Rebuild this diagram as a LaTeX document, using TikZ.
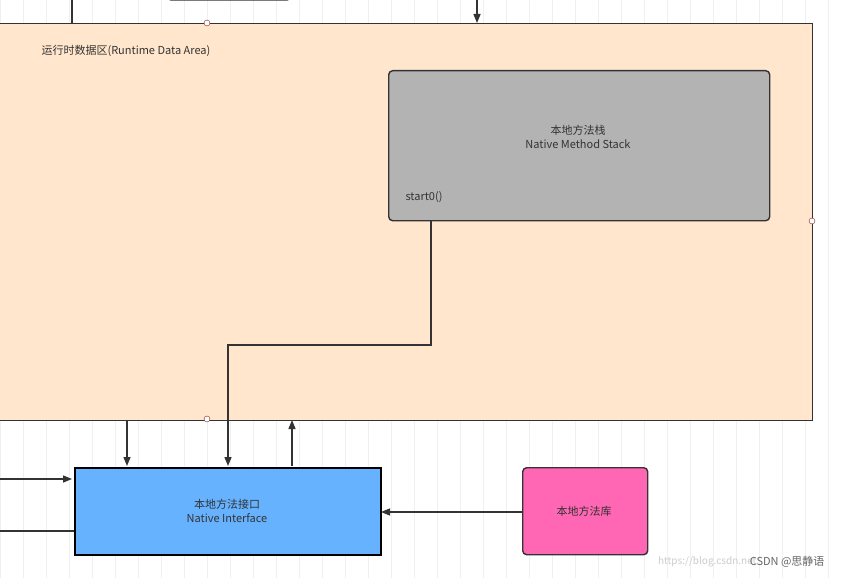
\documentclass[tikz,border=0pt]{standalone}
\usepackage{fontspec}
\setmainfont{Noto Sans CJK SC}
\usetikzlibrary{arrows.meta}
\definecolor{area}{HTML}{FFE6CC}
\definecolor{stk}{HTML}{B3B3B3}
\definecolor{ni}{HTML}{66B2FF}
\definecolor{lib}{HTML}{FF66B3}
\definecolor{ln}{HTML}{333333}
\tikzset{
  conn/.style={draw=ln,line width=1.4pt},
  arr/.style={conn,-{Triangle[length=9pt,width=7pt]}},
  box/.style={draw=ln,line width=1.4pt,anchor=north west,inner sep=0pt},
  dot/.style={circle,draw=ln!60!red,fill=white,inner sep=0pt,minimum size=6pt},
  txt/.style={font=\fontsize{11}{14}\selectfont,text=ln,align=center}
}
\begin{document}
\begin{tikzpicture}[x=1pt,y=-1pt]
\useasboundingbox (0,0) rectangle (841,578);
\fill[white] (0,0) rectangle (841,578);
\draw[gray!12,line width=0.5pt] (0,0) grid[step=23] (841,578);
% top partial elements
\coordinate (t1) at (72,0);
\coordinate (t2) at (477,0);
\draw[conn,rounded corners=3pt] (168,-8) -- (168,0) -- (290,0) -- (290,-8);
% runtime data area
\node[box,fill=area,minimum width=822,minimum height=397] (rda) at (-10,23) {};
\node[txt,anchor=west] at (38,51) {运行时数据区(Runtime Data Area)};
\draw[conn] (t1) -- (72,23);
\draw[arr] (t2) -- (477,23);
% native method stack
\node[box,fill=stk,rounded corners=4pt,minimum width=381,minimum height=150] (nms) at (388,70) {};
\node[txt] at (578,137) {本地方法栈\\Native Method Stack};
\node[txt,anchor=west] at (402,197) {start0()};
% native interface
\node[box,draw=black,line width=2pt,fill=ni,minimum width=306,minimum height=87] (nif) at (74,467) {};
\node[txt] at (227,511) {本地方法接口\\Native Interface};
% native library
\node[box,fill=lib,rounded corners=4pt,minimum width=125,minimum height=87] (nlb) at (522,467) {};
\node[txt] at (584,511) {本地方法库};
% connectors
\draw[arr] (nms.south west) ++(43,0) |- (228,345) -- (228,466);
\draw[arr] (127,420) -- (127,466);
\draw[arr] (292,466) -- (292,420);
\coordinate (l1) at (0,479);
\coordinate (l2) at (0,531);
\draw[arr] (l1) -- (72,479);
\draw[conn] (l2) -- (nif.west |- l2);
\draw[arr] (nlb.west |- 0,512) -- (381,512);
% port dots
\node[dot] at (207,23) {};
\node[dot] at (812,221) {};
\node[dot] at (207,419) {};
% watermark
\node[font=\fontsize{10}{12}\selectfont,text=gray!40,anchor=east] at (760,562) {https://blog.csdn.net};
\node[font=\fontsize{11}{13}\selectfont,text=gray!80!black,anchor=east] at (828,562) {CSDN @思静语};
\end{tikzpicture}
\end{document}
